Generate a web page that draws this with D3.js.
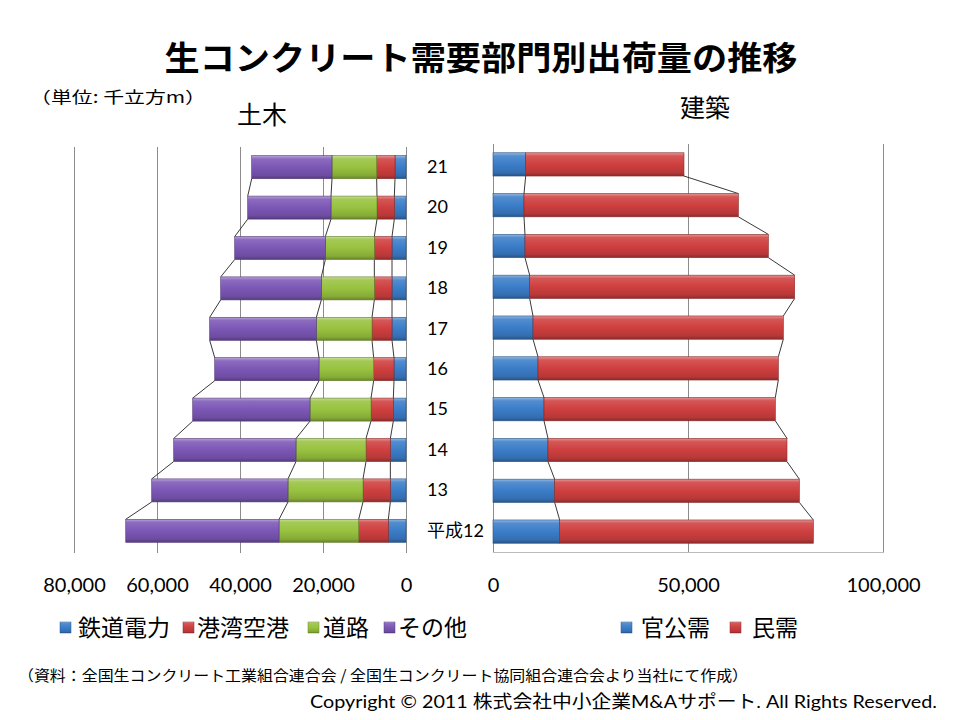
<!DOCTYPE html>
<html><head><meta charset="utf-8">
<script src="https://cdn.jsdelivr.net/npm/d3@7"></script>
<style>body{margin:0;background:#fff}svg{display:block}</style>
</head><body>
<script>
// ---- data (order: 平成12 .. 21) ----
const categories = ["平成12","13","14","15","16","17","18","19","20","21"];
const civilSeries = ["鉄道電力","港湾空港","道路","その他"];
const railPower = [4260,3770,3770,3050,2890,3370,3370,3370,2810,2650];
const portAirport = [7140,6590,5870,5380,4900,4820,4260,4260,4180,4420];
const road = [19190,18070,16860,14700,13170,13410,12770,11800,11080,10760];
const other = [36940,32840,29470,28260,25130,25700,24250,21840,20070,19350];
const buildSeries = ["官公需","民需"];
const publicDemand = [17090,15810,14100,13080,11540,10260,9400,8200,7950,8380];
const privateDemand = [65050,62740,61280,59310,61620,64180,67950,62400,54960,40590];
const leftTicks = [80000,60000,40000,20000,0];
const rightTicks = [0,50000,100000];

const colors = ["#3b7dc8","#cf3f3f","#98c23f","#7c57b6"];
const bColors = ["#3b7dc8","#cf3f3f"];

const W=960,H=720;
const svg=d3.select("body").append("svg").attr("width",W).attr("height",H);
const defs=svg.append("defs");
function grad(id,c){
  const g=defs.append("linearGradient").attr("id",id).attr("x1",0).attr("y1",0).attr("x2",0).attr("y2",1);
  const base=d3.color(c);
  g.append("stop").attr("offset","0%").attr("stop-color",d3.interpolateRgb(c,"#fff")(0.45));
  g.append("stop").attr("offset","14%").attr("stop-color",d3.interpolateRgb(c,"#fff")(0.12));
  g.append("stop").attr("offset","50%").attr("stop-color",c);
  g.append("stop").attr("offset","85%").attr("stop-color",base.darker(0.35));
  g.append("stop").attr("offset","100%").attr("stop-color",base.darker(1.1));
}
colors.forEach((c,i)=>grad("g"+i,c));

const cjk="'Noto Sans CJK JP', sans-serif";
const lat="Lato, 'Noto Sans CJK JP', sans-serif";

// ---- title & labels ----
svg.append("text").attr("x",481).attr("y",70).attr("text-anchor","middle")
  .attr("font-family",cjk).attr("font-weight","bold").attr("font-size",33)
  .attr("textLength",633).attr("lengthAdjust","spacingAndGlyphs")
  .text("生コンクリート需要部門別出荷量の推移");
svg.append("text").attr("x",30).attr("y",103).attr("font-family",cjk).attr("font-size",16)
  .attr("textLength",176).attr("lengthAdjust","spacingAndGlyphs").text("（単位: 千立方m）");
svg.append("text").attr("x",237).attr("y",124).attr("font-family",cjk).attr("font-size",25).text("土木");
svg.append("text").attr("x",680).attr("y",117).attr("font-family",cjk).attr("font-size",25).text("建築");

// ---- left chart ----
const xL=d3.scaleLinear().domain([0,80000]).range([406,74]);
const yL=d3.scaleBand().domain(categories.slice().reverse()).range([147,551]).paddingInner(0.43).paddingOuter(0.215);
const xR=d3.scaleLinear().domain([0,100000]).range([493,883]);
const yR=d3.scaleBand().domain(categories.slice().reverse()).range([144,552]).paddingInner(0.43).paddingOuter(0.215);

// gridlines
svg.append("g").selectAll("line").data(leftTicks).join("line")
  .attr("x1",d=>xL(d)+0.5).attr("x2",d=>xL(d)+0.5).attr("y1",147).attr("y2",553)
  .attr("stroke","#8c8c8c").attr("stroke-width",1);
svg.append("g").selectAll("line").data(rightTicks).join("line")
  .attr("x1",d=>xR(d)+0.5).attr("x2",d=>xR(d)+0.5).attr("y1",144).attr("y2",553)
  .attr("stroke","#8c8c8c").attr("stroke-width",1);
svg.append("line").attr("x1",493).attr("x2",884).attr("y1",552.5).attr("y2",552.5).attr("stroke","#bbb");

// stacks
const civilRows=categories.map((c,i)=>({cat:c,"鉄道電力":railPower[i],"港湾空港":portAirport[i],"道路":road[i],"その他":other[i]}));
const civilStack=d3.stack().keys(civilSeries)(civilRows);
const buildRows=categories.map((c,i)=>({cat:c,"官公需":publicDemand[i],"民需":privateDemand[i]}));
const buildStack=d3.stack().keys(buildSeries)(buildRows);

// series lines
function seriesLines(stack,x,y,left){
  const g=svg.append("g");
  stack.forEach(s=>{
    for(let i=0;i<categories.length-1;i++){
      const lo=s[i], hi=s[i+1]; // lo = lower bar (earlier year), hi = upper bar
      g.append("line")
        .attr("x1",x(hi[1])).attr("y1",y(hi.data.cat)+y.bandwidth())
        .attr("x2",x(lo[1])).attr("y2",y(lo.data.cat))
        .attr("stroke","#222").attr("stroke-width",0.9);
    }
  });
}
seriesLines(civilStack,xL,yL,true);
seriesLines(buildStack,xR,yR,false);

civilStack.forEach((s,si)=>{
  svg.append("g").selectAll("rect").data(s).join("rect")
    .attr("x",d=>xL(d[1])).attr("width",d=>xL(d[0])-xL(d[1]))
    .attr("y",d=>yL(d.data.cat)).attr("height",yL.bandwidth())
    .attr("fill","url(#g"+si+")").attr("stroke",d3.color(colors[si]).darker(1.2)).attr("stroke-width",0.6);
});
buildStack.forEach((s,si)=>{
  svg.append("g").selectAll("rect").data(s).join("rect")
    .attr("x",d=>xR(d[0])).attr("width",d=>xR(d[1])-xR(d[0]))
    .attr("y",d=>yR(d.data.cat)).attr("height",yR.bandwidth())
    .attr("fill","url(#g"+si+")").attr("stroke",d3.color(bColors[si]).darker(1.2)).attr("stroke-width",0.6);
});

// category axis (middle)
const catAxis=svg.append("g").attr("transform","translate(427,0)")
  .call(d3.axisRight(yL).tickSize(0).tickPadding(0));
catAxis.select(".domain").remove();
catAxis.selectAll("text").attr("font-family",lat).attr("font-size",18).attr("fill","#000");

// x axes
const fmt=d3.format(",");
const axL=svg.append("g").attr("transform","translate(0,578)")
  .call(d3.axisBottom(xL).tickValues(leftTicks).tickFormat(fmt).tickSize(0).tickPadding(0));
const axR=svg.append("g").attr("transform","translate(0,578)")
  .call(d3.axisBottom(xR).tickValues(rightTicks).tickFormat(fmt).tickSize(0).tickPadding(0));
[axL,axR].forEach(a=>{a.select(".domain").remove();a.selectAll("text").attr("font-family",lat).attr("font-size",20).attr("fill","#000");});

// legends
function legend(items,cols,xs,tx){
  const g=svg.append("g");
  items.forEach((t,i)=>{
    g.append("rect").attr("x",xs[i]).attr("y",622).attr("width",11).attr("height",11)
      .attr("fill","url(#g"+i+")").attr("stroke",d3.color(cols[i]).darker(1)).attr("stroke-width",0.5);
    g.append("text").attr("x",tx[i]).attr("y",636).attr("font-family",cjk).attr("font-size",23).text(t);
  });
}
legend(civilSeries,colors,[60,183,308,384],[78,197,323,398]);
legend(buildSeries,bColors,[621,730],[641,752]);

// footer
svg.append("text").attr("x",18).attr("y",681).attr("font-family",cjk).attr("font-size",15)
  .attr("textLength",730).attr("lengthAdjust","spacingAndGlyphs")
  .text("（資料：全国生コンクリート工業組合連合会 / 全国生コンクリート協同組合連合会より当社にて作成）");
svg.append("text").attr("x",310).attr("y",708).attr("font-family",lat).attr("font-size",18)
  .attr("textLength",627).attr("lengthAdjust","spacingAndGlyphs")
  .text("Copyright © 2011 株式会社中小企業M&Aサポート. All Rights Reserved.");
</script>
</body></html>
